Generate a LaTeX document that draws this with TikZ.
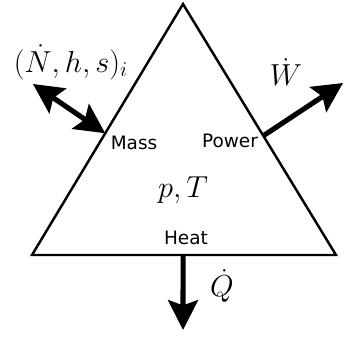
\documentclass[tikz,border=0pt]{standalone}
\usepackage{amsmath}
\usepackage{fontspec}
\newfontfamily\labelfont{DejaVu Sans}
\usetikzlibrary{arrows.meta, positioning, calc}

\begin{document}
\begin{tikzpicture}[
    x=0.02cm, y=-0.02cm,
    % Styles
    cv/.style={
        line width=1.4pt,
        line join=miter
    },
    port/.style={
        font=\labelfont\fontsize{10.5}{12}\selectfont
    },
    flux/.style={
        font=\LARGE
    },
    flow/.style={
        -{Stealth[length=17pt, width=17pt, inset=3pt]},
        line width=2.9pt
    },
    biflow/.style={
        {Stealth[length=17pt, width=17pt, inset=3pt]}-{Stealth[length=17pt, width=17pt, inset=3pt]},
        line width=2.9pt
    }
]
\useasboundingbox (0,0) rectangle (362,336);

% Control volume corners
\coordinate (top) at (183,4);
\coordinate (bl) at (32,255);
\coordinate (br) at (336,255);
\draw[cv] (top) -- (bl) -- (br) -- cycle;

% Ports on the edges
\coordinate (massport) at ($(top)!0.515!(bl)$);
\coordinate (powerport) at ($(top)!0.525!(br)$);
\coordinate (heatport) at ($(bl)!0.497!(br)$);

% Outer ends of the flows
\coordinate (massout) at (33,84);
\coordinate (powerout) at (343,83);
\coordinate (heatout) at (183,330);

% State inside
\node[font=\fontsize{16.5}{20}\selectfont] (state) at (183,190) {$p, T$};

% Port labels
\node[port] (mass) at (134,143) {Mass};
\node[port] (power) at (230,141) {Power};
\node[port] (heat) at (186,238) {Heat};

% Flows
\draw[biflow] (massport) -- (massout);
\draw[flow] (powerport) -- (powerout);
\draw[flow] (heatport) -- (heatout);

% Flow labels
\node[font=\fontsize{18.5}{22}\selectfont] (masslab) at (71,62) {$(\dot{N}, h, s)_i$};
\node[flux] (powerlab) at (286,72) {$\dot{W}$};
\node[flux] (heatlab) at (222,286) {$\dot{Q}$};

\end{tikzpicture}
\end{document}
